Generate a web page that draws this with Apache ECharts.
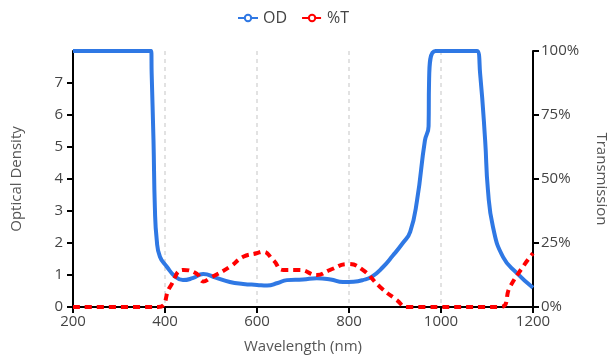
<!DOCTYPE html>
<html>
<head>
<meta charset="utf-8">
<script src="https://cdn.jsdelivr.net/npm/echarts@6/dist/echarts.min.js"></script>
<style>
  html, body { margin: 0; padding: 0; background: #fff; }
  #main { width: 611px; height: 358px; }
</style>
</head>
<body>
<div id="main"></div>
<script>
// wavelength (nm) / optical density
const odWavelength = [200, 370, 371, 375, 378, 382, 389, 404, 422, 439, 460, 483, 510, 541, 570, 600, 622, 645, 665, 700, 730, 760, 787, 810, 830, 850, 874, 895, 917, 933, 948, 965, 973, 974, 988, 1078, 1085, 1096, 1102, 1113, 1135, 1165, 1200];
const odValues = [8, 8, 7.3, 5.2, 3.1, 2.1, 1.57, 1.26, 0.95, 0.84, 0.9, 1.03, 0.92, 0.78, 0.72, 0.69, 0.67, 0.75, 0.84, 0.86, 0.9, 0.86, 0.78, 0.79, 0.84, 0.95, 1.25, 1.6, 2.0, 2.35, 3.34, 5.2, 5.65, 7.0, 8, 8, 7.3, 5.2, 3.66, 2.5, 1.56, 1.06, 0.6];

// wavelength (nm) / transmission (%)
const tWavelength = [200, 385, 411, 440, 469, 483, 498, 541, 570, 599, 613, 635, 657, 693, 730, 759, 798, 830, 867, 904, 926, 1128, 1150, 1178, 1200];
const tValues = [0, 0, 7.9, 14.5, 13, 10, 11.3, 15.7, 19.6, 21, 21.6, 18.4, 14.5, 14.5, 12.5, 14.5, 16.8, 14.5, 7.9, 2.7, 0, 0, 7.9, 15.7, 21];

const odTicks = [0, 1, 2, 3, 4, 5, 6, 7];

const font = "'Open Sans', sans-serif";
const axisLineStyle = { color: '#000', width: 2 };
const labelColor = '#444';
const nameColor = '#555';

const chart = echarts.init(document.getElementById('main'));

const option = {
  animation: false,
  textStyle: { fontFamily: font },
  legend: {
    top: 5,
    left: 232,
    itemGap: 14,
    itemWidth: 20,
    itemHeight: 8,
    textStyle: { fontSize: 16, color: '#444', fontFamily: font },
    data: ['OD', '%T']
  },
  grid: { left: 73, right: 78, top: 51, bottom: 51, outerBoundsMode: 'none', containLabel: false },
  xAxis: {
    type: 'value',
    min: 200,
    max: 1200,
    interval: 200,
    name: 'Wavelength (nm)',
    nameLocation: 'middle',
    nameGap: 32,
    nameTextStyle: { fontSize: 15, color: nameColor },
    axisLine: { lineStyle: axisLineStyle },
    axisTick: { show: true, length: 6, lineStyle: axisLineStyle },
    axisLabel: { fontSize: 15, color: labelColor, margin: 7, formatter: v => String(v) },
    splitLine: {
      show: true,
      lineStyle: { color: '#e2e2e2', width: 2, type: [4, 4] }
    }
  },
  yAxis: [
    {
      type: 'value',
      min: 0,
      max: 8,
      interval: 1,
      name: 'Optical Density',
      nameLocation: 'middle',
      nameGap: 49,
      nameTextStyle: { fontSize: 15, color: nameColor },
      axisLine: { show: true, lineStyle: axisLineStyle },
      axisTick: { show: true, length: 6, lineStyle: axisLineStyle, customValues: odTicks },
      axisLabel: { fontSize: 15, color: labelColor, margin: 10, customValues: odTicks },
      splitLine: { show: false }
    },
    {
      type: 'value',
      min: 0,
      max: 100,
      interval: 25,
      position: 'right',
      name: 'Transmission',
      nameLocation: 'middle',
      nameGap: 61,
      nameRotate: -90,
      nameTextStyle: { fontSize: 15, color: nameColor },
      axisLine: { show: true, lineStyle: axisLineStyle },
      axisTick: { show: true, length: 6, lineStyle: axisLineStyle },
      axisLabel: { fontSize: 15, color: labelColor, margin: 8, formatter: '{value}%' },
      splitLine: { show: false }
    }
  ],
  series: [
    {
      name: 'OD',
      type: 'line',
      yAxisIndex: 0,
      data: odWavelength.map((w, i) => [w, odValues[i]]),
      smooth: 0.5,
      symbol: 'emptyCircle',
      symbolSize: 6,
      showSymbol: false,
      color: '#2f78e4',
      lineStyle: { color: '#2f78e4', width: 4 },
      z: 3
    },
    {
      name: '%T',
      type: 'line',
      yAxisIndex: 1,
      data: tWavelength.map((w, i) => [w, tValues[i]]),
      smooth: 0.5,
      symbol: 'emptyCircle',
      symbolSize: 6,
      showSymbol: false,
      color: '#ff0000',
      lineStyle: { color: '#ff0000', width: 4, type: [7, 5] },
      z: 4
    }
  ]
};

chart.setOption(option);
</script>
</body>
</html>
